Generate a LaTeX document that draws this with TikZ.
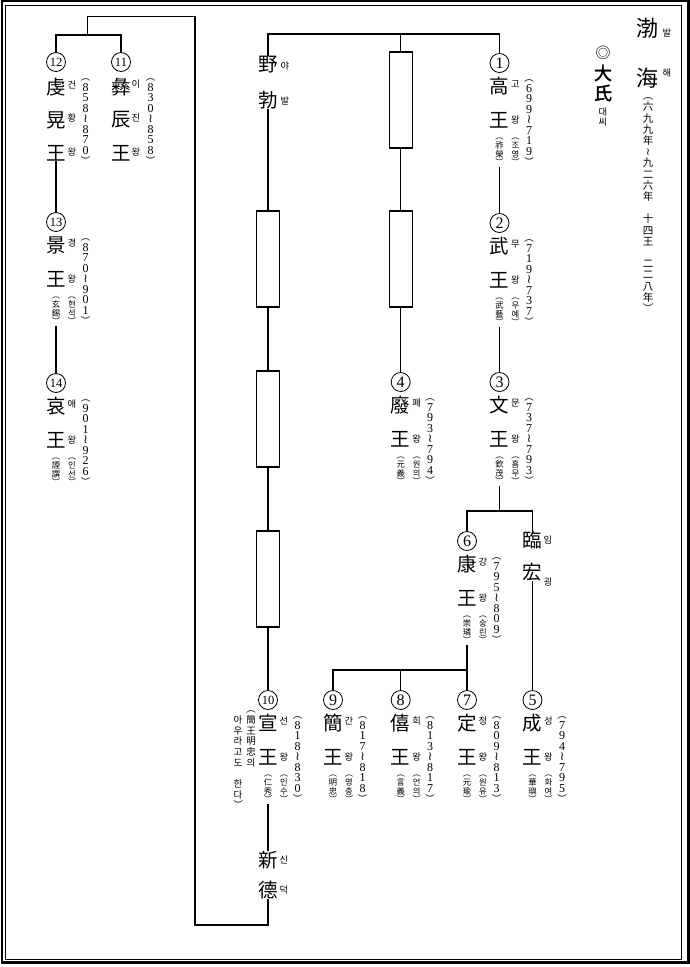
\documentclass[tikz,border=0pt]{standalone}
\usepackage{fontspec}
\usepackage{graphicx}
\setmainfont{Noto Sans CJK KR}
\newfontfamily\cjk{Noto Sans CJK KR}
\newfontfamily\cjkb{Noto Sans CJK KR}[FakeBold=2]
\newfontfamily\lser{Liberation Serif}
\newfontfamily\dejavu{DejaVu Sans}
\newcommand\po{{\cjk ︵}}
\newcommand\pc{{\cjk ︶}}
\newcommand\spo{{\cjk\fontsize{9.5}{9.5}\selectfont ︵}}
\newcommand\spc{{\cjk\fontsize{9.5}{9.5}\selectfont ︶}}
\newcommand\vt{{\dejavu ≀}}
\newcommand\vcol[3]{\vbox{\offinterlineskip\fontsize{#1}{#2}\selectfont
 \foreach \vitem in {#3}{\hbox to 0pt{\hss\vrule height \dimexpr #2pt/2+#1pt*37/100\relax depth \dimexpr #2pt/2-#1pt*37/100\relax width 0pt\vitem\hss}}}}
\newcommand\nn[1]{\fontsize{12.5}{12.5}\selectfont #1}
\tikzset{
 big/.style={inner sep=0pt, font=\fontsize{19.5}{19.5}\selectfont},
 rd/.style={inner sep=0pt, font=\fontsize{9.3}{9.3}\selectfont},
 numc/.style={circle, draw, line width=0.8pt, minimum size=19pt, inner sep=0pt, font=\lser\fontsize{16}{16}\selectfont},
 col/.style={inner sep=0pt, anchor=north},
 conn/.style={line width=1.2pt},
 pbox/.style={draw, line width=1.2pt, minimum width=23pt, minimum height=96pt, inner sep=0pt},
}
\newcommand\kinghead[6]{%
 \node[numc] (#1n) at ({#2},{#3}) {#4};
 \node[big] (#1a) at ({#2},{#3+23}) {#5};
 \node[rd] (#1ar) at ({#2+16},{#3+21}) {#6};
 \node[big] (#1b) at ({#2},{#3+57}) {王};
 \node[rd] (#1br) at ({#2+16},{#3+57}) {왕};
}
\newcommand\kingtail[5]{%
 \node[col] (#1p) at ({#2},{#3+69}) {\vcol{8.3}{8.7}{#4}};
 \node[col] (#1q) at ({#2+16},{#3+69}) {\vcol{8.3}{8.7}{#5}};
}
\newcommand\kingdate[4]{%
 \node[col] (#1d) at ({#2+29.5},{#3+9}) {\lser\vcol{12}{10.5}{#4}};
}
\begin{document}
\begin{tikzpicture}[x=1pt,y=-1pt]
\useasboundingbox (0,0) rectangle (690,967);
\fill[white] (0,0) rectangle (690,967);
\draw[line width=2.5pt] (2,1.2) rectangle (688.3,962.3);
\draw[line width=1pt] (5.2,5.7) rectangle (681.7,959);

% title
\node[inner sep=0pt, font=\fontsize{22}{22}\selectfont] (tb) at (647,28) {渤};
\node[rd] (tbr) at (667,33) {발};
\node[inner sep=0pt, font=\fontsize{22}{22}\selectfont] (th) at (647,78) {海};
\node[rd] (thr) at (667,73) {해};
\node[col] (tc) at (648,90) {\vcol{10.5}{11.2}{\po,六,九,九,年,\vt,九,二,六,年,,十,四,王,,二,二,八,年,\pc}};
\node[inner sep=0pt, font=\fontsize{15}{15}\selectfont] (dm) at (603,53) {◎};
\node[inner sep=0pt, font=\cjkb\fontsize{18}{18}\selectfont] (d1) at (603,73) {大};
\node[inner sep=0pt, font=\cjkb\fontsize{18}{18}\selectfont] (d2) at (603,93) {氏};
\node[rd] (d3) at (603,112) {대};
\node[rd] (d4) at (603,122) {씨};

% kings
\kinghead{k1}{499.5}{63}{1}{高}{고}
\kingtail{k1}{499.5}{63}{\po,祚,榮,\pc}{\po,조,영,\pc}
\kingdate{k1}{499.5}{63}{\spo,6,9,9,\vt,7,1,9,\spc}

\kinghead{k2}{499.5}{223}{2}{武}{무}
\kingtail{k2}{499.5}{223}{\po,武,藝,\pc}{\po,무,예,\pc}
\kingdate{k2}{499.5}{223}{\spo,7,1,9,\vt,7,3,7,\spc}

\kinghead{k3}{499.5}{382}{3}{文}{문}
\kingtail{k3}{499.5}{382}{\po,欽,茂,\pc}{\po,흠,무,\pc}
\kingdate{k3}{499.5}{382}{\spo,7,3,7,\vt,7,9,3,\spc}

\kinghead{k4}{400.7}{382}{4}{廢}{폐}
\kingtail{k4}{400.7}{382}{\po,元,義,\pc}{\po,원,의,\pc}
\kingdate{k4}{400.7}{382}{\spo,7,9,3,\vt,7,9,4,\spc}

\kinghead{k6}{467}{541}{6}{康}{강}
\kingtail{k6}{467}{541}{\po,崇,璘,\pc}{\po,숭,린,\pc}
\kingdate{k6}{467}{541}{\spo,7,9,5,\vt,8,0,9,\spc}

\kinghead{k5}{532.5}{700}{5}{成}{성}
\kingtail{k5}{532.5}{700}{\po,華,璵,\pc}{\po,화,여,\pc}
\kingdate{k5}{532.5}{700}{\spo,7,9,4,\vt,7,9,5,\spc}

\kinghead{k7}{467}{700}{7}{定}{정}
\kingtail{k7}{467}{700}{\po,元,瑜,\pc}{\po,원,유,\pc}
\kingdate{k7}{467}{700}{\spo,8,0,9,\vt,8,1,3,\spc}

\kinghead{k8}{400.7}{700}{8}{僖}{희}
\kingtail{k8}{400.7}{700}{\po,言,義,\pc}{\po,언,의,\pc}
\kingdate{k8}{400.7}{700}{\spo,8,1,3,\vt,8,1,7,\spc}

\kinghead{k9}{333}{700}{9}{簡}{간}
\kingtail{k9}{333}{700}{\po,明,忠,\pc}{\po,명,충,\pc}
\kingdate{k9}{333}{700}{\spo,8,1,7,\vt,8,1,8,\spc}

\kinghead{k10}{268}{700}{\nn{10}}{宣}{선}
\kingtail{k10}{268}{700}{\po,仁,秀,\pc}{\po,인,수,\pc}
\kingdate{k10}{268}{700}{\spo,8,1,8,\vt,8,3,0,\spc}
\node[col] (k10x) at (251,703.6) {\vcol{9.5}{10.7}{\po,簡,王,明,忠,의}};
\node[col] (k10y) at (238,714.3) {\vcol{9.5}{10.7}{아,우,라,고,도,,한,다,\pc}};

\kinghead{k13}{56}{222}{\nn{13}}{景}{경}
\kingtail{k13}{56}{222}{\po,玄,錫,\pc}{\po,현,석,\pc}
\kingdate{k13}{56}{222}{\spo,8,7,0,\vt,9,0,1,\spc}

\kinghead{k14}{56}{383}{\nn{14}}{哀}{애}
\kingtail{k14}{56}{383}{\po,諲,譔,\pc}{\po,인,선,\pc}
\kingdate{k14}{56}{383}{\spo,9,0,1,\vt,9,2,6,\spc}

% kings 11, 12 (three characters)
\node[numc] (k12n) at (56,62) {\nn{12}};
\node[big] (k12a) at (56,87) {虔};
\node[rd] (k12ar) at (72,85) {건};
\node[big] (k12b) at (56,120) {晃};
\node[rd] (k12br) at (72,118) {황};
\node[big] (k12c) at (56,153) {王};
\node[rd] (k12cr) at (72,152) {왕};
\kingdate{k12}{56}{62}{\spo,8,5,8,\vt,8,7,0,\spc}

\node[numc] (k11n) at (121,62) {\nn{11}};
\node[big] (k11a) at (121,87) {彝};
\node[rd] (k11ar) at (136,84) {이};
\node[big] (k11b) at (121,120) {辰};
\node[rd] (k11br) at (136,118) {진};
\node[big] (k11c) at (121,153) {王};
\node[rd] (k11cr) at (136,152) {왕};
\kingdate{k11}{121}{62}{\spo,8,3,0,\vt,8,5,8,\spc}

% other persons
\node[big] (ya) at (268,65) {野};
\node[rd] (yar) at (285,66) {야};
\node[big] (yb) at (268,100) {勃};
\node[rd] (ybr) at (285,101) {발};
\node[big] (im) at (532.5,540) {臨};
\node[rd] (imr) at (548,540) {임};
\node[big] (gw) at (532.5,572) {宏};
\node[rd] (gwr) at (548,582) {굉};
\node[big] (sn) at (268,860) {新};
\node[rd] (snr) at (284,860) {신};
\node[big] (dk) at (268,890) {德};
\node[rd] (dkr) at (284,890) {덕};

% unnamed generations
\node[pbox] (bA) at (400.7,100) {};
\node[pbox] (bB) at (400.7,259) {};
\node[pbox] (bL1) at (268,259) {};
\node[pbox] (bL2) at (268,419) {};
\node[pbox] (bL3) at (268,579) {};

% connectors
\coordinate (t1) at (268,34);
\coordinate (t2) at (400.7,34);
\coordinate (t3) at (499.5,34);
\draw[conn] (ya.north) -- (t1) -- (t3) -- (k1n.north);
\draw[conn] (t2) -- (bA.north);
\draw[conn] (bA.south) -- (bB.north);
\draw[conn] (bB.south) -- (k4n.north);
\draw[conn] (yb.south) -- (bL1.north);
\draw[conn] (bL1.south) -- (bL2.north);
\draw[conn] (bL2.south) -- (bL3.north);
\draw[conn] (bL3.south) -- (k10n.north);
\draw[conn] (k1p.south) -- (k2n.north);
\draw[conn] (k2p.south) -- (k3n.north);
\coordinate (s1) at (499.5,511);
\draw[conn] (k3p.south) -- (s1);
\draw[conn] (k6n.north) -- (k6n.north |- s1) -- (im.north |- s1) -- (im.north);
\draw[conn] (gw.south) -- (k5n.north);
\coordinate (s2) at (467,670);
\draw[conn] (k6p.south) -- (k7n.north);
\draw[conn] (k9n.north) -- (k9n.north |- s2) -- (s2);
\draw[conn] (k8n.north) -- (k8n.north |- s2);
\draw[conn] (k10p.south) -- (sn.north);
\coordinate (c1) at (268,925);
\coordinate (c2) at (195,925);
\coordinate (c3) at (195,16.7);
\coordinate (c4) at (87.7,16.7);
\coordinate (c5) at (87.7,35);
\draw[conn] (dk.south) -- (c1) -- (c2) -- (c3) -- (c4) -- (c5);
\draw[conn] (k12n.north) -- (k12n.north |- c5) -- (k11n.north |- c5) -- (k11n.north);
\draw[conn] (k12c.south) -- (k13n.north);
\draw[conn] (k13p.south) -- (k14n.north);
\end{tikzpicture}
\end{document}
